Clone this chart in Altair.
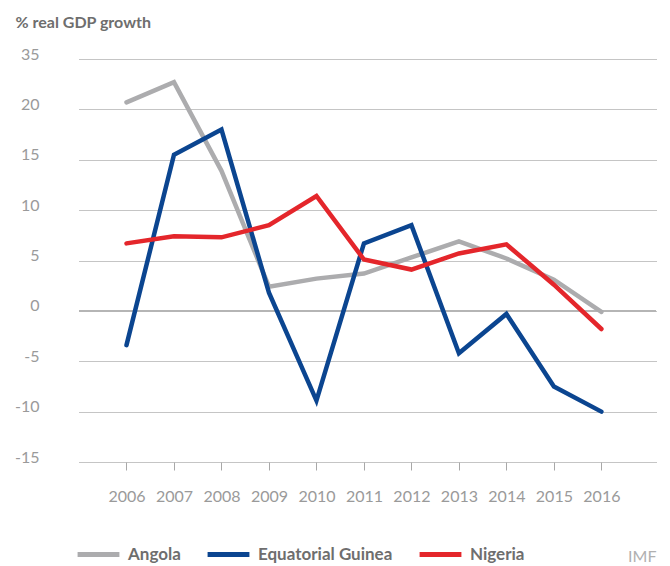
import altair as alt
import pandas as pd

years = list(range(2006, 2017))
angola = [20.7, 22.7, 13.9, 2.4, 3.2, 3.7, 5.3, 6.9, 5.2, 3.1, -0.1]
eq_guinea = [-3.4, 15.5, 18.0, 1.8, -8.9, 6.7, 8.5, -4.2, -0.3, -7.5, -10.0]
nigeria = [6.7, 7.4, 7.3, 8.5, 11.4, 5.1, 4.1, 5.7, 6.6, 2.6, -1.8]

series_names = ["Angola", "Equatorial Guinea", "Nigeria"]
series_colors = ["#acacae", "#0b4590", "#e4262b"]
y_ticks = [-15, -10, -5, 0, 5, 10, 15, 20, 25]

rows = []
for name, vals in zip(series_names, [angola, eq_guinea, nigeria]):
    for yr, v in zip(years, vals):
        rows.append({"year": yr, "growth": v, "country": name})
df = pd.DataFrame(rows)

W, H = 577, 403
FONT = "Lato"

x_enc = alt.X(
    "year:Q",
    scale=alt.Scale(domain=[2005, 2017.15], nice=False, zero=False),
    axis=alt.Axis(
        values=years, format="d", grid=False, domain=False,
        ticks=True, tickColor="#a8a8a8", tickSize=8, tickWidth=1,
        labelPadding=18, labelFontSize=16, labelColor="#9a9a9a", labelFont=FONT,
        title="IMF", titleX=W, titleY=99, titleAlign="right",
        titleBaseline="alphabetic", titleFontWeight="normal",
        titleColor="#b0b0b0", titleFontSize=16, titleFont=FONT,
    ),
)

y_enc = alt.Y(
    "growth:Q",
    scale=alt.Scale(domain=[-15, 25], nice=False, zero=False),
    axis=alt.Axis(
        values=y_ticks,
        labelExpr="datum.value == 25 ? '35' : '' + datum.value",
        grid=True, gridDash=[1, 1], gridColor="#8a8a8a", gridWidth=1,
        ticks=False, domain=False, labelPadding=40, labelBaseline="alphabetic",
        labelFontSize=16, labelColor="#9a9a9a", labelFont=FONT,
        title="% real GDP growth", titleAngle=0, titleX=-64, titleY=-32,
        titleAlign="left", titleBaseline="alphabetic", titleFontSize=16,
        titleFontWeight="bold", titleColor="#6e6e6e", titleFont=FONT,
    ),
)

lines = alt.Chart(df).mark_line(strokeWidth=4.5, strokeCap="round", strokeJoin="miter").encode(
    x=x_enc,
    y=y_enc,
    color=alt.Color(
        "country:N",
        scale=alt.Scale(domain=series_names, range=series_colors),
        legend=alt.Legend(
            orient="none", legendX=-4, legendY=472, direction="horizontal",
            title=None, symbolType="stroke", symbolSize=1750, symbolStrokeWidth=5,
            labelFontSize=17, labelFontWeight="bold", labelColor="#6e6e6e",
            labelFont=FONT, columnPadding=16, labelOffset=6, gridAlign="none",
        ),
    ),
    detail="country:N",
)

zero = alt.Chart(pd.DataFrame({"v": [0]})).mark_rule(color="#b5b5b5", strokeWidth=2).encode(
    y=alt.Y("v:Q")
)

chart = (
    alt.layer(zero, lines)
    .properties(width=W, height=H, padding={"left": 6, "top": 6, "right": 5, "bottom": 0})
    .configure_view(stroke=None)
)

chart.save("out.html", embed_options={"renderer": "svg", "actions": False})
